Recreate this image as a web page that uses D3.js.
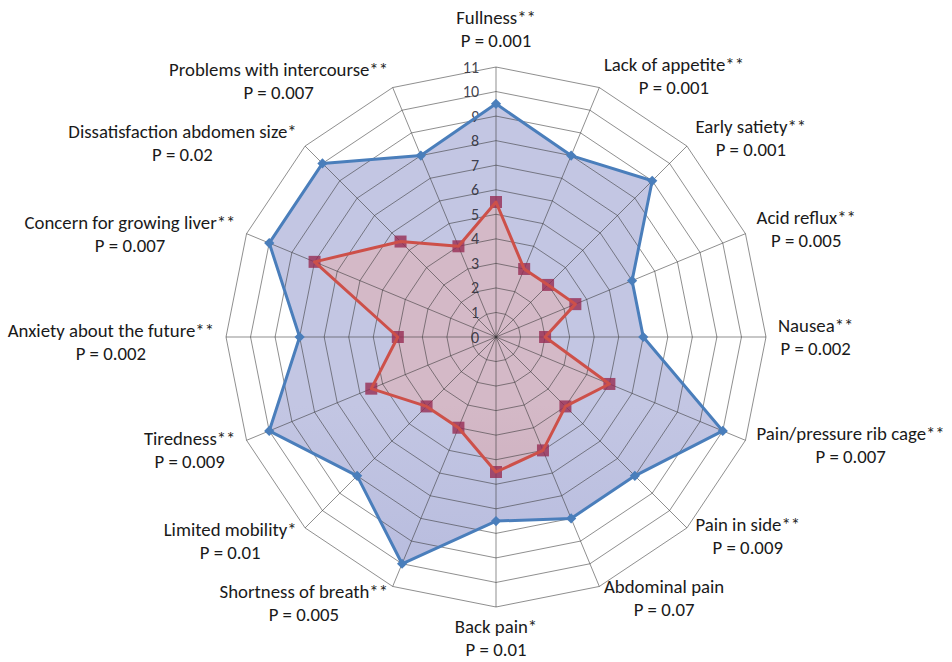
<!DOCTYPE html>
<html>
<head>
<meta charset="utf-8">
<script src="https://cdn.jsdelivr.net/npm/d3@7"></script>
<style>
  html, body { margin: 0; padding: 0; background: #fff; }
  svg { display: block; }
</style>
</head>
<body>
<svg id="chart" width="952" height="662"></svg>
<script>
// Symptom axes, clockwise from the top
const symptoms = [
  "Fullness**", "Lack of appetite**", "Early satiety**", "Acid reflux**",
  "Nausea**", "Pain/pressure rib cage**", "Pain in side**", "Abdominal pain",
  "Back pain*", "Shortness of breath**", "Limited mobility*", "Tiredness**",
  "Anxiety about the future**", "Concern for growing liver**",
  "Dissatisfaction abdomen size*", "Problems with intercourse**"
];
const pValues = [
  "P = 0.001", "P = 0.001", "P = 0.001", "P = 0.005",
  "P = 0.002", "P = 0.007", "P = 0.009", "P = 0.07",
  "P = 0.01", "P = 0.005", "P = 0.01", "P = 0.009",
  "P = 0.002", "P = 0.007", "P = 0.02", "P = 0.007"
];
// Outer (blue) and inner (red) series scores
const groupA = [9.5, 8, 9, 6, 6, 10, 8, 8, 7.5, 10, 8, 10, 8, 10, 10, 8];
const groupB = [5.5, 3, 3, 3.5, 2, 5, 4, 5, 5.5, 4, 4, 5.5, 4, 8, 5.5, 4];
const tickValues = [0, 1, 2, 3, 4, 5, 6, 7, 8, 9, 10, 11];

const svg = d3.select("#chart");
const cx = 496, cy = 337, radius = 270;
const font = "Calibri, Carlito, Lato, sans-serif";

const r = d3.scaleLinear().domain([0, 11]).range([0, radius]);
const angle = d3.scaleLinear().domain([0, symptoms.length]).range([0, 2 * Math.PI]);

const defs = svg.append("defs");
function gradient(id, stops) {
  const g = defs.append("linearGradient").attr("id", id)
    .attr("gradientUnits", "userSpaceOnUse")
    .attr("x1", 0).attr("x2", 0)
    .attr("y1", cy - radius).attr("y2", cy + radius);
  stops.forEach(([o, c]) => g.append("stop").attr("offset", o).attr("stop-color", c));
}
gradient("fillA", [[0, "#c3c6e3"], [0.46, "#b3b8dc"], [0.53, "#bbc0e0"], [0.6, "#a5add9"], [1, "#95a0d3"]]);
gradient("fillB", [[0, "#d4b9c7"], [0.46, "#c4a3b5"], [0.52, "#bf9db0"], [0.58, "#a77a92"], [1, "#925a78"]]);

const plot = svg.append("g").attr("transform", `translate(${cx},${cy})`);

const radial = d3.lineRadial()
  .angle((d, i) => angle(i))
  .radius(d => r(d))
  .curve(d3.curveLinearClosed);

// Filled areas
plot.append("path").datum(groupA).attr("d", radial).attr("fill", "url(#fillA)");
plot.append("path").datum(groupB).attr("d", radial).attr("fill", "url(#fillB)");

// Tick labels along the vertical axis
plot.append("g").selectAll("text").data(tickValues).join("text")
  .attr("x", -17).attr("y", d => -r(d))
  .attr("text-anchor", "end").attr("dominant-baseline", "central")
  .attr("font-family", font).attr("font-size", 16)
  .attr("fill", "#2e2e3a").attr("fill-opacity", 0.9)
  .text(d => d);

// Grid: rings and spokes
const grid = plot.append("g").attr("fill", "none")
  .attr("stroke", "#333").attr("stroke-opacity", 0.55).attr("stroke-width", 1);
grid.selectAll("path.ring").data(tickValues.slice(1)).join("path")
  .attr("class", "ring")
  .attr("d", v => radial(symptoms.map(() => v)));
grid.selectAll("line").data(symptoms).join("line")
  .attr("x1", 0).attr("y1", 0)
  .attr("x2", (d, i) => r(11) * Math.sin(angle(i)))
  .attr("y2", (d, i) => -r(11) * Math.cos(angle(i)));

function pos(v, i) {
  return [r(v) * Math.sin(angle(i)), -r(v) * Math.cos(angle(i))];
}

// Red series: square markers under the line
plot.append("g").selectAll("rect").data(groupB).join("rect")
  .attr("x", (d, i) => pos(d, i)[0] - 6).attr("y", (d, i) => pos(d, i)[1] - 6)
  .attr("width", 12).attr("height", 12)
  .attr("fill", "#962c52").attr("fill-opacity", 0.8);
plot.append("path").datum(groupB).attr("d", radial)
  .attr("fill", "none").attr("stroke", "#cd5049").attr("stroke-width", 3)
  .attr("stroke-linejoin", "round");

// Blue series: line with diamond markers
plot.append("path").datum(groupA).attr("d", radial)
  .attr("fill", "none").attr("stroke", "#4a7ebb").attr("stroke-width", 3)
  .attr("stroke-linejoin", "round");
plot.append("g").selectAll("path").data(groupA).join("path")
  .attr("d", d3.symbol(d3.symbolSquare, 52))
  .attr("transform", (d, i) => `translate(${pos(d, i)}) rotate(45)`)
  .attr("fill", "#4a7ebb");

// Category labels with P values
const lineH = 23;
const labelR = r(11) + 12;
const labels = plot.append("g").attr("font-family", font).attr("font-size", 18.8).attr("fill", "#1a1a1a");
symptoms.forEach((name, i) => {
  const a = angle(i), s = Math.sin(a), c = Math.cos(a);
  const ax = labelR * s, ay = -labelR * c;
  const g = labels.append("g");
  const t1 = g.append("text").text(name);
  const t2 = g.append("text").text(pValues[i]);
  const w = Math.max(t1.node().getComputedTextLength(), t2.node().getComputedTextLength());
  const H = 2 * lineH;
  let mx, top;
  if (Math.abs(s) < 1e-6) {
    mx = ax;
    top = c > 0 ? ay - H - 3 : ay - 4;
  } else {
    mx = s > 0 ? ax + w / 2 : ax - w / 2;
    top = ay - H / 2 + (s < 0 ? 5 : 0);
  }
  [t1, t2].forEach((t, k) => t
    .attr("x", mx).attr("y", top + lineH * (k + 0.5))
    .attr("text-anchor", "middle").attr("dominant-baseline", "central"));
});
</script>
</body>
</html>
